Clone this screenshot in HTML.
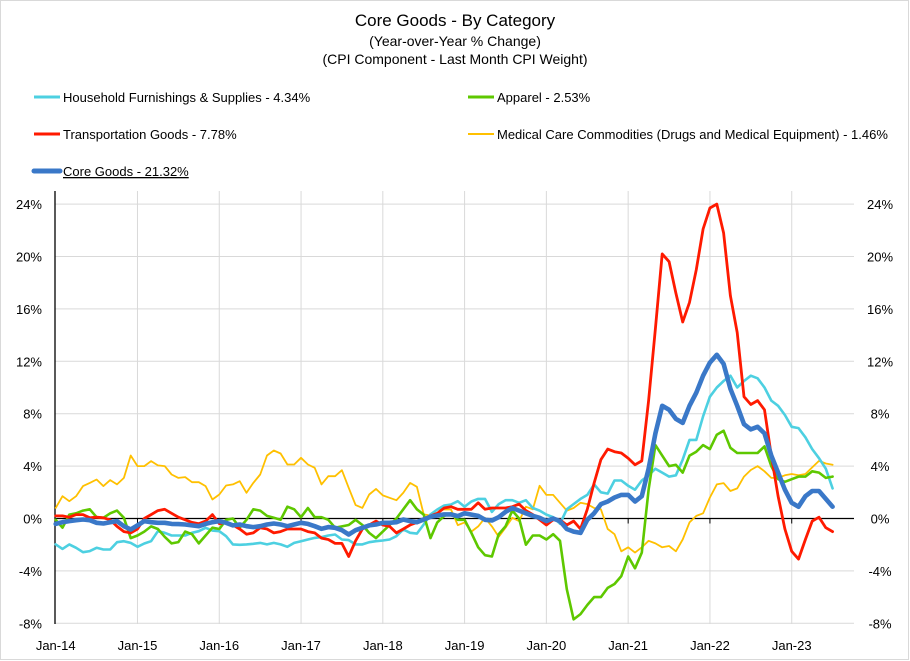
<!DOCTYPE html>
<html><head><meta charset="utf-8">
<style>
html,body{margin:0;padding:0;background:#fff;}
svg{display:block;font-family:"Liberation Sans",sans-serif;}
</style></head>
<body>
<svg id="chart" width="910" height="661" viewBox="0 0 910 661" xmlns="http://www.w3.org/2000/svg">
<rect x="0.5" y="0.5" width="908" height="659" fill="#fff" stroke="#d9d9d9"/>
<text x="455" y="26" text-anchor="middle" font-size="17" fill="#000">Core Goods - By Category</text>
<text x="455" y="46" text-anchor="middle" font-size="14" fill="#000">(Year-over-Year % Change)</text>
<text x="455" y="64" text-anchor="middle" font-size="14" fill="#000">(CPI Component - Last Month CPI Weight)</text>
<g font-size="13" fill="#000">
<g><line x1="34" y1="97" x2="60" y2="97" stroke="#4dd0e1" stroke-width="3"/><text x="63" y="102">Household Furnishings &amp; Supplies - 4.34%</text></g>
<g><line x1="468" y1="97" x2="494" y2="97" stroke="#5ec800" stroke-width="3"/><text x="497" y="102">Apparel - 2.53%</text></g>
<g><line x1="34" y1="134" x2="60" y2="134" stroke="#ff1a00" stroke-width="3"/><text x="63" y="139">Transportation Goods - 7.78%</text></g>
<g><line x1="468" y1="134" x2="494" y2="134" stroke="#ffc000" stroke-width="2"/><text x="497" y="139">Medical Care Commodities (Drugs and Medical Equipment) - 1.46%</text></g>
<g><line x1="34" y1="171" x2="60" y2="171" stroke="#3a78c8" stroke-width="5" stroke-linecap="round"/><text x="63" y="176" text-decoration="underline">Core Goods - 21.32%</text></g>
</g>
<g id="grid"></g>
<g id="axes"></g>
<g id="series"></g>
</svg>
<script>
const yearLabels = ["Jan-14","Jan-15","Jan-16","Jan-17","Jan-18","Jan-19","Jan-20","Jan-21","Jan-22","Jan-23"];
const yTicks = [-8,-4,0,4,8,12,16,20,24];
const household = [-1.98,-2.32,-1.98,-2.24,-2.57,-2.49,-2.24,-2.37,-2.37,-1.81,-1.73,-1.86,
-2.16,-1.91,-1.73,-0.97,-1.09,-1.30,-1.30,-1.30,-1.09,-0.97,-0.71,-0.92,
-0.97,-1.35,-1.98,-2.01,-1.98,-1.93,-1.86,-1.98,-1.86,-1.98,-2.16,-1.86,
-1.73,-1.60,-1.48,-1.42,-1.30,-1.22,-1.60,-1.65,-1.98,-1.98,-1.81,-1.73,
-1.68,-1.60,-1.35,-0.84,-1.09,-1.15,-0.46,0.31,0.69,0.99,1.07,1.32,
0.9,1.3,1.5,1.5,0.5,1.1,1.4,1.4,1.2,1.4,0.8,0.6,
0.3,0.1,-0.4,0.7,1.1,1.5,1.8,2.6,2.0,1.9,2.9,2.9,
2.5,2.2,2.9,3.3,3.8,3.5,3.2,3.3,4.5,6.0,6.0,7.8,
9.3,10.0,10.5,10.9,10.0,10.5,10.9,10.7,10.0,9.0,8.6,7.9,
7.0,6.9,6.2,5.3,4.6,3.8,2.3];
const apparel = [-0.1,-0.7,0.3,0.4,0.6,0.7,0.1,0.05,0.4,0.6,0.05,-1.5,
-1.3,-1.0,-0.6,-0.8,-1.4,-1.9,-1.8,-1.0,-1.2,-1.9,-1.3,-0.7,
-0.8,-0.1,0,-0.7,-0.1,0.7,0.6,0.2,0.05,-0.1,0.9,0.7,
0.1,0.8,0.1,0.1,-0.1,-0.7,-0.6,-0.5,-0.1,-0.5,-1.1,-1.5,
-1.0,-0.5,0,0.7,1.4,0.7,0.3,-1.5,-0.3,0.2,0.4,-0.1,
-0.1,-1.1,-2.2,-2.8,-2.9,-1.2,-0.6,0.6,0,-2.0,-1.3,-1.3,
-1.6,-1.2,-1.7,-5.4,-7.7,-7.3,-6.6,-6.0,-6.0,-5.3,-5.0,-4.4,
-2.9,-3.8,-2.6,2.2,5.6,4.8,4.0,4.1,3.5,4.8,5.1,5.6,
5.3,6.4,6.7,5.4,5.0,5.0,5.0,5.0,5.5,4.0,3.0,2.8,
3.0,3.2,3.2,3.6,3.5,3.1,3.2];
const transportation = [0.2,0.2,0.1,0.3,0.3,0.05,0.1,0.05,-0.1,-0.6,-1.0,-1.1,
-0.8,0,0.3,0.6,0.7,0.4,0.1,-0.1,-0.3,-0.4,-0.2,0.3,
-0.4,-0.3,-0.5,-0.8,-1.2,-1.1,-0.7,-0.8,-1.1,-1.0,-0.8,-0.8,
-0.8,-1.0,-1.1,-1.5,-1.6,-1.9,-1.9,-2.9,-1.7,-0.8,-0.5,-0.2,
-0.5,-0.6,-1.1,-0.8,-0.5,-0.3,0,0.2,0.4,0.8,0.9,0.7,
0.7,0.7,1.2,0.7,0.8,0.8,0.8,0.9,1.1,0.6,0.3,-0.1,
-0.5,-0.1,-0.1,-0.5,-0.2,-0.8,0.7,2.7,4.5,5.3,5.1,5.0,
4.6,4.1,4.4,9.0,14.5,20.2,19.6,17.2,15.0,16.5,19.0,22.1,
23.7,24.0,21.8,17.0,14.2,9.3,8.7,9.0,8.3,4.8,1.7,-0.8,
-2.5,-3.1,-1.6,-0.2,0.1,-0.7,-1.0];
const medical = [0.81,1.70,1.32,1.70,2.47,2.72,2.98,2.47,2.93,2.60,3.10,4.81,
4.00,4.00,4.38,4.05,4.00,3.36,3.10,3.16,2.77,2.77,2.47,1.45,
1.83,2.52,2.60,2.85,1.96,2.72,3.36,4.81,5.19,4.96,4.12,4.12,
4.63,4.12,3.87,2.60,3.23,3.23,3.69,2.34,1.02,0.81,1.83,2.26,
1.76,1.58,1.40,1.96,2.72,2.42,0.31,0.23,0.69,0.69,0.69,-0.51,
-0.3,-1.0,-0.6,0.05,-0.6,-1.4,-0.7,0.05,-0.2,0.9,0.7,2.5,
1.8,1.8,1.2,0.6,0.8,1.2,1.1,0.8,0.7,-0.8,-1.2,-2.5,
-2.2,-2.6,-2.2,-1.7,-1.9,-2.2,-2.1,-2.5,-1.6,-0.3,0.2,0.4,
1.6,2.6,2.7,2.1,2.3,3.2,3.7,4.0,3.6,3.1,3.1,3.3,
3.4,3.3,3.4,3.9,4.4,4.2,4.1];
const coreGoods = [-0.41,-0.28,-0.20,-0.13,-0.08,-0.13,-0.33,-0.38,-0.28,-0.20,-0.59,-0.84,
-0.53,-0.20,-0.28,-0.33,-0.33,-0.41,-0.43,-0.46,-0.53,-0.59,-0.41,-0.28,
-0.20,-0.33,-0.53,-0.46,-0.59,-0.66,-0.59,-0.46,-0.38,-0.46,-0.59,-0.46,
-0.33,-0.41,-0.59,-0.79,-0.66,-0.71,-0.89,-1.22,-0.89,-0.71,-0.53,-0.46,
-0.33,-0.33,-0.28,-0.08,-0.20,-0.28,-0.08,0.13,0.23,0.31,0.31,0.18,
0.4,0.3,0.2,-0.1,-0.15,0.1,0.5,0.8,0.6,0.4,0.2,0.05,
-0.2,0.0,-0.2,-0.8,-1.0,-1.1,-0.1,0.4,1.1,1.3,1.6,1.8,
1.8,1.3,1.7,3.8,6.5,8.6,8.3,7.6,7.3,8.6,9.6,10.9,
11.9,12.5,11.8,9.9,8.6,7.2,6.8,7.0,6.5,4.8,3.5,2.2,
1.2,0.9,1.7,2.1,2.1,1.5,0.9];

const NS="http://www.w3.org/2000/svg";
const X0=55.7, MONTH=6.815, PLOT_L=55, PLOT_R=854, PLOT_T=191, PLOT_B=624;
const xScale = m => X0 + m*MONTH;
const yScale = v => 518.5 - v*13.1;
function mk(tag, attrs, parent){const e=document.createElementNS(NS,tag);for(const k in attrs)e.setAttribute(k,attrs[k]);parent.appendChild(e);return e;}
const grid=document.getElementById('grid'), axes=document.getElementById('axes'), series=document.getElementById('series');

yTicks.forEach(t=>{
  const y=yScale(t);
  if(t!==0){const l=mk('line',{x1:PLOT_L,x2:PLOT_R,y1:y,y2:y,stroke:'#d9d9d9','stroke-width':1},grid);
  
  }
  const lbl=(t)+'%';
  const a=mk('text',{x:42,y:y+5,'text-anchor':'end','font-size':13,fill:'#000'},axes);a.textContent=lbl;
  
  
  const b=mk('text',{x:880,y:y+5,'text-anchor':'middle','font-size':13,fill:'#000'},axes);b.textContent=lbl;
  
  
});
yearLabels.forEach((lab,i)=>{
  const x=xScale(i*12);
  if(i>0){const g=mk('line',{x1:x,x2:x,y1:PLOT_T,y2:PLOT_B,stroke:'#d9d9d9','stroke-width':1},grid);
  
  }
  const tk=mk('line',{x1:x,x2:x,y1:yScale(0),y2:yScale(0)+5,stroke:'#000','stroke-width':1},axes);
  
  
  const t=mk('text',{x:x,y:650,'text-anchor':'middle','font-size':13,fill:'#000'},axes);t.textContent=lab;
  
  
});
const yAxis=mk('line',{x1:PLOT_L,x2:PLOT_L,y1:PLOT_T,y2:PLOT_B,stroke:'#000','stroke-width':1.3},axes);


const zero=mk('line',{x1:PLOT_L,x2:PLOT_R,y1:yScale(0),y2:yScale(0),stroke:'#000','stroke-width':1.3},axes);



function drawLine(arr,color,w,name){
  const pts=arr.map((v,i)=>xScale(i).toFixed(1)+','+yScale(v).toFixed(1)).join(' ');
  const p=mk('polyline',{points:pts,fill:'none',stroke:color,'stroke-width':w,'stroke-linejoin':'round','stroke-linecap':'round'},series);
  
  
}
drawLine(medical,'#ffc000',1.8,'medical-care-line');
drawLine(household,'#4dd0e1',2.6,'household-furnishings-line');
drawLine(apparel,'#5ec800',2.6,'apparel-line');
drawLine(transportation,'#ff1a00',2.8,'transportation-goods-line');
drawLine(coreGoods,'#3a78c8',4.6,'core-goods-line');
</script>
</body></html>
